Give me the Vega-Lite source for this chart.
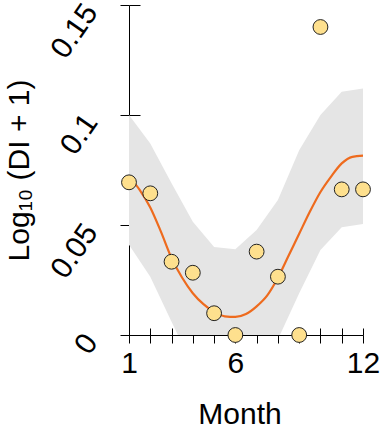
{
  "$schema": "https://vega.github.io/schema/vega-lite/v6.json",
  "width": 234,
  "height": 330,
  "autosize": "none",
  "padding": {"left": 129, "top": 5, "right": 20, "bottom": 92},
  "background": "white",
  "config": {
    "view": {"stroke": null},
    "font": "Liberation Sans",
    "axis": {"grid": false, "domainColor": "#000", "tickColor": "#000", "labelColor": "#000", "titleColor": "#000", "labelFont": "Liberation Sans", "titleFont": "Liberation Sans", "titleFontWeight": "normal"}
  },
  "datasets": {
    "band": [
      {"month": 1, "lo": 0.041, "hi": 0.1},
      {"month": 2, "lo": 0.0265, "hi": 0.087},
      {"month": 3, "lo": 0.006, "hi": 0.069},
      {"month": 4, "lo": -0.014, "hi": 0.0515},
      {"month": 5, "lo": -0.02, "hi": 0.04},
      {"month": 6, "lo": -0.02, "hi": 0.039},
      {"month": 7, "lo": -0.018, "hi": 0.0477},
      {"month": 8, "lo": -0.002, "hi": 0.0614},
      {"month": 9, "lo": 0.019, "hi": 0.084},
      {"month": 10, "lo": 0.0386, "hi": 0.1},
      {"month": 11, "lo": 0.049, "hi": 0.1106},
      {"month": 12, "lo": 0.0505, "hi": 0.112}
    ],
    "curve": [
      {"month": 1.0, "fit": 0.072},
      {"month": 1.5, "fit": 0.066},
      {"month": 2.0, "fit": 0.058},
      {"month": 2.5, "fit": 0.047},
      {"month": 3.0, "fit": 0.035},
      {"month": 3.5, "fit": 0.026},
      {"month": 4.0, "fit": 0.019},
      {"month": 4.5, "fit": 0.014},
      {"month": 5.0, "fit": 0.0105},
      {"month": 5.5, "fit": 0.0085},
      {"month": 6.0, "fit": 0.0082},
      {"month": 6.5, "fit": 0.0095},
      {"month": 7.0, "fit": 0.013},
      {"month": 7.5, "fit": 0.018},
      {"month": 8.0, "fit": 0.026},
      {"month": 8.5, "fit": 0.036},
      {"month": 9.0, "fit": 0.046},
      {"month": 9.5, "fit": 0.056},
      {"month": 10.0, "fit": 0.065},
      {"month": 10.5, "fit": 0.072},
      {"month": 11.0, "fit": 0.078},
      {"month": 11.5, "fit": 0.081},
      {"month": 12.0, "fit": 0.0815}
    ],
    "obs": [
      {"month": 1, "value": 0.0694},
      {"month": 2, "value": 0.0644},
      {"month": 3, "value": 0.0333},
      {"month": 4, "value": 0.0283},
      {"month": 5, "value": 0.0099},
      {"month": 6, "value": 0},
      {"month": 7, "value": 0.0379},
      {"month": 8, "value": 0.0265},
      {"month": 9, "value": 0},
      {"month": 10, "value": 0.14},
      {"month": 11, "value": 0.0662},
      {"month": 12, "value": 0.0662}
    ]
  },
  "resolve": {"axis": {"x": "independent", "y": "independent"}},
  "layer": [
    {
      "data": {"name": "band"},
      "mark": {"type": "area", "color": "#E5E5E5", "clip": true},
      "encoding": {
        "x": {"field": "month", "type": "quantitative",
          "scale": {"domain": [1, 12], "nice": false, "zero": false},
          "axis": {"title": "Month", "values": [1,2,3,4,5,6,7,8,9,10,11,12],
            "labelExpr": "(datum.value == 1 || datum.value == 6 || datum.value == 12) ? datum.label : ''",
            "labelFlush": false, "labelOverlap": false, "labelFontSize": 30, "labelPadding": 5,
            "tickSize": 8, "tickWidth": 1, "domainWidth": 1,
            "titleFontSize": 30, "titleBaseline": "alphabetic", "titleX": 110.5, "titleY": 88, "titleAnchor": null, "titleAlign": "center"}},
        "y": {"field": "lo", "type": "quantitative",
          "scale": {"domain": [0, 0.15], "nice": false, "zero": false},
          "axis": {"title": "Log₁₀ (DI + 1)", "values": [0, 0.05, 0.1, 0.15],
            "labelExpr": "datum.value == 0 ? '0' : '' + datum.value",
            "labelFlush": false, "labelOverlap": false, "labelFontSize": 30, "labelAngle": -55,
            "labelAlign": "right", "labelBaseline": "middle", "labelPadding": 29, "labelOffset": 2,
            "tickSize": 9, "tickWidth": 1, "domainWidth": 1,
            "titleFontSize": 30, "titleBaseline": "alphabetic", "titleAngle": -90, "titleX": -100.7, "titleY": 165, "titleAlign": "center"}},
        "y2": {"field": "hi"}
      }
    },
    {
      "data": {"name": "curve"},
      "mark": {"type": "line", "color": "#EE6B1E", "strokeWidth": 2.2, "interpolate": "monotone"},
      "encoding": {
        "x": {"field": "month", "type": "quantitative", "axis": null},
        "y": {"field": "fit", "type": "quantitative", "axis": null}
      }
    },
    {
      "data": {"name": "obs"},
      "mark": {"type": "point", "shape": "circle", "filled": true, "size": 220, "fill": "#FEE08E", "stroke": "#222222", "strokeWidth": 1, "opacity": 1, "clip": false},
      "encoding": {
        "x": {"field": "month", "type": "quantitative",
          "axis": {"title": null, "values": [1,2,3,4,5,6,7,8,9,10,11,12], "labels": false, "domain": false, "tickSize": 7, "offset": -7, "orient": "bottom"}},
        "y": {"field": "value", "type": "quantitative",
          "axis": {"title": null, "values": [0, 0.05, 0.1, 0.15], "labels": false, "domain": false, "tickSize": 11, "offset": -11, "orient": "left"}}
      }
    }
  ]
}
